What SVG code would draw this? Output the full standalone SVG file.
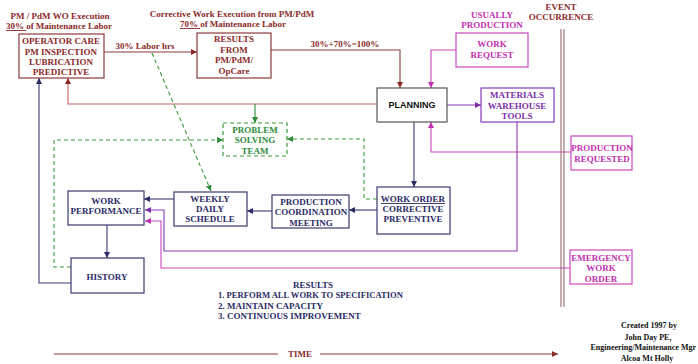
<svg xmlns="http://www.w3.org/2000/svg" width="698" height="364" viewBox="0 0 698 364">
<style>
text{font-family:"Liberation Serif","Times New Roman",serif;font-weight:bold;font-size:9px;text-anchor:middle}
.red{fill:#8b2a2a}.mag{fill:#c030b0}.pur{fill:#7a2fa8}.grn{fill:#2e8b3a}.nav{fill:#2b2b66}.blk{fill:#111}
.sans{font-family:"Liberation Sans",Arial,sans-serif}
.box{fill:#fff;stroke-width:1.2}
.bred{stroke:#8b3a3a}.bmag{stroke:#c848c0}.bpur{stroke:#8a3ab8}.bnav{stroke:#3a3a70}.bgry{stroke:#555}
.bgrn{stroke:#3a9a3a;stroke-dasharray:4 3}
.c{fill:none;stroke-width:1.1}
.u{text-decoration:underline}
.cr{font-size:8px}
</style>
<defs>
<marker id="aR" markerUnits="userSpaceOnUse" markerWidth="6" markerHeight="6" refX="6" refY="3" orient="auto"><path d="M0,0L6,3L0,6z" fill="#8b2a2a"/></marker>
<marker id="aM" markerUnits="userSpaceOnUse" markerWidth="6" markerHeight="6" refX="6" refY="3" orient="auto"><path d="M0,0L6,3L0,6z" fill="#c030b0"/></marker>
<marker id="aP" markerUnits="userSpaceOnUse" markerWidth="6" markerHeight="6" refX="6" refY="3" orient="auto"><path d="M0,0L6,3L0,6z" fill="#7a2fa8"/></marker>
<marker id="aN" markerUnits="userSpaceOnUse" markerWidth="6" markerHeight="6" refX="6" refY="3" orient="auto"><path d="M0,0L6,3L0,6z" fill="#2b2b66"/></marker>
<marker id="aG" markerUnits="userSpaceOnUse" markerWidth="6" markerHeight="6" refX="6" refY="3" orient="auto"><path d="M0,0L6,3L0,6z" fill="#2e8b3a"/></marker>
</defs>

<g id="connectors">
<path class="c" stroke="#8b3a3a" d="M104,52H197" marker-end="url(#aR)"/>
<path class="c" stroke="#8b3a3a" d="M271,50H400V88" marker-end="url(#aR)"/>
<path class="c" stroke="#c06565" d="M377,104H68V78" marker-end="url(#aR)"/>
<path class="c" stroke="#2e8b3a" d="M255,104V123" marker-end="url(#aG)"/>
<path class="c" stroke="#c848c0" d="M456,50H431V88" marker-end="url(#aM)"/>
<path class="c" stroke="#8a3ab8" d="M447,105H481" marker-end="url(#aP)"/>
<path class="c" stroke="#c848c0" d="M571,152H431V122" marker-end="url(#aM)"/>
<path class="c" stroke="#3a3a70" d="M414,122V187" marker-end="url(#aN)"/>
<path class="c" stroke="#8a3ab8" d="M517,122V251H164V210H145" marker-end="url(#aP)"/>
<path class="c" stroke="#c848c0" d="M570,268H161V221H145" marker-end="url(#aM)"/>
<path class="c" stroke="#3a3a70" d="M377,210H349" marker-end="url(#aN)"/>
<path class="c" stroke="#3a3a70" d="M272,211H247" marker-end="url(#aN)"/>
<path class="c" stroke="#3a3a70" d="M174,199H144" marker-end="url(#aN)"/>
<path class="c" stroke="#3a3a70" d="M107,225V258" marker-end="url(#aN)"/>
<path class="c" stroke="#3a3a70" d="M71,283H39V78" marker-end="url(#aN)"/>
<path class="c" stroke="#3a9a3a" stroke-dasharray="4 3" d="M152,53L211,191" marker-end="url(#aG)"/>
<path class="c" stroke="#3a9a3a" stroke-dasharray="4 3" d="M71,267H54V140H223" marker-end="url(#aG)"/>
<path class="c" stroke="#3a9a3a" stroke-dasharray="4 3" d="M377,199H364V139H287" marker-end="url(#aG)"/>
<path class="c" stroke="#8b3a3a" d="M54,354H278M320,354H558" marker-end="url(#aR)"/>
<path class="c" stroke="#9a6a6a" d="M561,29V307M564,29V307"/>
</g>

<g id="labels">
<text class="red" x="60" y="19">PM / PdM  WO Execution</text>
<text class="red" x="59" y="29"><tspan class="u">30% </tspan>of Maintenance  Labor</text>
<text class="red" x="232" y="17">Corrective  Work  Execution  from  PM/PdM</text>
<text class="red" x="233" y="27"><tspan class="u">70% </tspan>of Maintenance  Labor</text>
<text class="red" x="145" y="49">30% Labor  hrs</text>
<text class="red" x="345" y="47">30%+70%=100%</text>
<text class="mag" x="492" y="18">USUALLY</text>
<text class="mag" x="492" y="28">PRODUCTION</text>
<text class="red" x="561" y="10">EVENT</text>
<text class="red" x="561" y="20">OCCURRENCE</text>
</g>

<g id="operator-care">
<rect class="box bred" x="19" y="34" width="85" height="44"/>
<text class="red" x="61" y="44">OPERATOR  CARE</text>
<text class="red" x="61" y="55">PM INSPECTION</text>
<text class="red" x="61" y="65">LUBRICATION</text>
<text class="red" x="61" y="75">PREDICTIVE</text>
</g>

<g id="results-box">
<rect class="box bred" x="197" y="33" width="74" height="45"/>
<text class="red" x="234" y="42">RESULTS</text>
<text class="red" x="234" y="53">FROM</text>
<text class="red" x="234" y="63">PM/PdM/</text>
<text class="red" x="234" y="74">OpCare</text>
</g>

<g id="work-request">
<rect class="box bmag" x="456" y="33" width="72" height="34"/>
<text class="mag" x="492" y="47">WORK</text>
<text class="mag" x="492" y="58">REQUEST</text>
</g>

<g id="planning">
<rect class="box bgry" x="377" y="88" width="70" height="34"/>
<text class="blk sans" x="412" y="108">PLANNING</text>
</g>

<g id="materials">
<rect class="box bpur" x="481" y="88" width="73" height="34"/>
<text class="pur" x="517" y="98">MATERIALS</text>
<text class="pur" x="517" y="109">WAREHOUSE</text>
<text class="pur" x="517" y="119">TOOLS</text>
</g>

<g id="problem-solving">
<rect class="box bgrn" x="223" y="123" width="64" height="33"/>
<text class="grn" x="255" y="133">PROBLEM</text>
<text class="grn" x="255" y="143">SOLVING</text>
<text class="grn" x="255" y="154">TEAM</text>
</g>

<g id="production-requested">
<rect class="box bmag" x="571" y="136" width="61" height="34"/>
<text class="mag" x="602" y="151">PRODUCTION</text>
<text class="mag" x="602" y="162">REQUESTED</text>
</g>

<g id="work-order">
<rect class="box bnav" x="377" y="187" width="73" height="47"/>
<text class="nav" x="413" y="202"><tspan class="u">WORK  ORDER</tspan></text>
<text class="nav" x="413" y="212">CORRECTIVE</text>
<text class="nav" x="413" y="222">PREVENTIVE</text>
</g>

<g id="production-coordination">
<rect class="box bnav" x="272" y="195" width="77" height="33"/>
<text class="nav" x="311" y="205">PRODUCTION</text>
<text class="nav" x="311" y="215">COORDINATION</text>
<text class="nav" x="311" y="226">MEETING</text>
</g>

<g id="weekly-schedule">
<rect class="box bnav" x="174" y="192" width="73" height="34"/>
<text class="nav" x="210" y="202">WEEKLY</text>
<text class="nav" x="210" y="212">DAILY</text>
<text class="nav" x="210" y="222">SCHEDULE</text>
</g>

<g id="work-performance">
<rect class="box bnav" x="68" y="191" width="76" height="34"/>
<text class="nav" x="106" y="204">WORK</text>
<text class="nav" x="106" y="214">PERFORMANCE</text>
</g>

<g id="history">
<rect class="box bnav" x="71" y="258" width="73" height="35"/>
<text class="nav" x="107" y="280">HISTORY</text>
</g>

<g id="emergency">
<rect class="box bmag" x="570" y="250" width="62" height="34"/>
<text class="mag" x="601" y="261">EMERGENCY</text>
<text class="mag" x="601" y="271">WORK</text>
<text class="mag" x="601" y="282">ORDER</text>
</g>

<g id="results-list">
<text class="nav" x="313" y="288">RESULTS</text>
<text class="nav" x="218" y="298" style="text-anchor:start" textLength="185" lengthAdjust="spacingAndGlyphs">1.  PERFORM  ALL  WORK  TO  SPECIFICATION</text>
<text class="nav" x="218" y="309" style="text-anchor:start">2.  MAINTAIN  CAPACITY</text>
<text class="nav" x="218" y="319" style="text-anchor:start">3.  CONTINUOUS  IMPROVEMENT</text>
</g>

<g id="time-label">
<text class="red" x="300" y="357">TIME</text>
</g>

<g id="credits">
<text class="blk cr" x="649" y="328">Created 1997 by</text>
<text class="blk cr" x="648" y="340">John Day PE,</text>
<text class="blk cr" x="696" y="350" style="text-anchor:end">Engineering/Maintenance Mgr</text>
<text class="blk cr" x="647" y="361">Alcoa Mt Holly</text>
</g>
</svg>
